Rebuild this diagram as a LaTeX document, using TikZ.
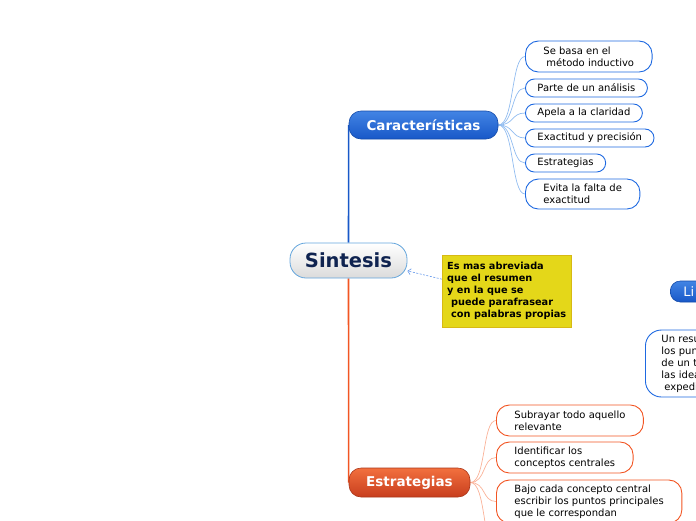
\documentclass[tikz,border=0pt]{standalone}
\usepackage{fontspec}
\setmainfont{DejaVu Sans}
\usepackage{tikz}
\usetikzlibrary{positioning, arrows.meta, backgrounds, shadows}
\definecolor{deepblue}{RGB}{24,88,200}
\definecolor{skyblue}{RGB}{66,132,228}
\definecolor{paleblue}{RGB}{145,188,240}
\definecolor{edgeblue}{RGB}{30,105,225}
\definecolor{rootedge}{RGB}{100,165,220}
\definecolor{rootink}{RGB}{15,35,80}
\definecolor{deeporange}{RGB}{200,62,30}
\definecolor{warmorange}{RGB}{242,112,62}
\definecolor{paleorange}{RGB}{250,178,152}
\definecolor{edgeorange}{RGB}{242,85,35}
\definecolor{notefill}{RGB}{228,215,25}
\definecolor{noteedge}{RGB}{215,185,20}

\begin{document}
\begin{tikzpicture}[
  x=1pt, y=-1pt,
  root/.style={draw=rootedge, line width=0.8pt, top color=white, bottom color=black!14,
               rounded corners=16pt, minimum width=117pt, minimum height=35pt,
               font=\bfseries\fontsize{19.5}{22}\selectfont, text=rootink},
  topic/.style={draw=deepblue!85!black, line width=0.6pt, top color=skyblue,
                bottom color=deepblue, rounded corners=12pt, minimum height=28pt,
                font=\bfseries\fontsize{13.5}{16}\selectfont, text=white},
  topico/.style={topic, draw=deeporange!85!black, top color=warmorange,
                 bottom color=deeporange},
  sub/.style={draw=edgeblue, line width=0.9pt, fill=white, rounded corners=9pt,
              anchor=west, inner xsep=12pt, inner ysep=1pt, minimum height=18pt,
              align=left, font=\fontsize{10}{12}\selectfont},
  subtwo/.style={sub, rounded corners=13pt, inner xsep=18pt, minimum height=31pt},
  subo/.style={subtwo, draw=edgeorange},
  note/.style={draw=noteedge, fill=notefill, anchor=north west, align=left,
               inner sep=5pt, minimum width=128pt, minimum height=72pt,
               font=\bfseries\fontsize{9.75}{12}\selectfont,
               drop shadow={opacity=0.2, shadow xshift=1pt, shadow yshift=-1pt}},
  twig/.style={draw=paleblue, line width=0.7pt},
  twigo/.style={draw=paleorange, line width=0.7pt},
  trunk/.style={draw=deepblue, line width=1.6pt},
  trunko/.style={draw=edgeorange, line width=1.6pt},
  hint/.style={draw=edgeblue!70, dashed, dash pattern=on 2pt off 1.5pt, line width=0.6pt,
               -{Straight Barb[length=3pt, width=6pt]}}]

  \useasboundingbox (0,0) rectangle (696,520);

  \node[root] (sin) at (348.5,260.5) {Sintesis};
  \node[topic, minimum width=149pt] (car) at (423.5,125) {Características};
  \node[topico, minimum width=121pt, minimum height=29pt] (est) at (409.5,482.5) {Estrategias};

  \node[note] (nota) at (442,255) {Es mas abreviada\\que el resumen\\y en la que se\\
    \hspace*{4pt}puede parafrasear\\\hspace*{4pt}con palabras propias};

  % caracteristicas
  \node[subtwo] (c1) at (525,56.5) {Se basa en el\\\hspace*{3pt}método inductivo};
  \node[sub] (c2) at (525,88) {Parte de un análisis};
  \node[sub] (c3) at (525,113) {Apela a la claridad};
  \node[sub] (c4) at (525,138) {Exactitud y precisión};
  \node[sub] (c5) at (525,163) {Estrategias};
  \node[subtwo, minimum height=30pt] (c6) at (525,194) {Evita la falta de\\exactitud};

  % estrategias
  \node[subo] (e1) at (496,420.5) {Subrayar todo aquello\\relevante};
  \node[subo] (e2) at (496,457.5) {Identificar los\\conceptos centrales};
  \node[subo, minimum height=43pt] (e3) at (496,501.5)
    {Bajo cada concepto central\\escribir los puntos principales\\que le correspondan};
  \coordinate (e4) at (496,548);

  % cut at the right edge
  \node[topic, anchor=west, font=\fontsize{13}{15}\selectfont, rounded corners=10pt,
        minimum height=21pt, inner xsep=13pt, text width=60pt, align=left]
    (li) at (670,291.5) {Li};
  \node[sub, rounded corners=16pt, inner xsep=16pt, inner ysep=4pt, text width=80pt,
        minimum height=67pt] (resu) at (645,363.5)
    {Un resu\\los pun\\de un t\\las idea\\\hspace*{3pt}expedi};

  \begin{scope}[on background layer]
    \draw[trunk] (sin.north) -- (car.west);
    \draw[trunko] (sin.south) -- (est.west);
    \foreach \c in {c1,c2,c3,c4,c5,c6}
      \draw[twig] (car.east) .. controls +(16,0) and +(-14,0) .. (\c.west);
    \foreach \e in {e1,e2,e3}
      \draw[twigo] (est.east) .. controls +(16,0) and +(-14,0) .. (\e.west);
    \draw[twigo] (est.east) .. controls +(16,0) and +(-14,0) .. (e4);
  \end{scope}

  \draw[hint] ([yshift=12pt]nota.west) -- (sin.-10);
\end{tikzpicture}
\end{document}
